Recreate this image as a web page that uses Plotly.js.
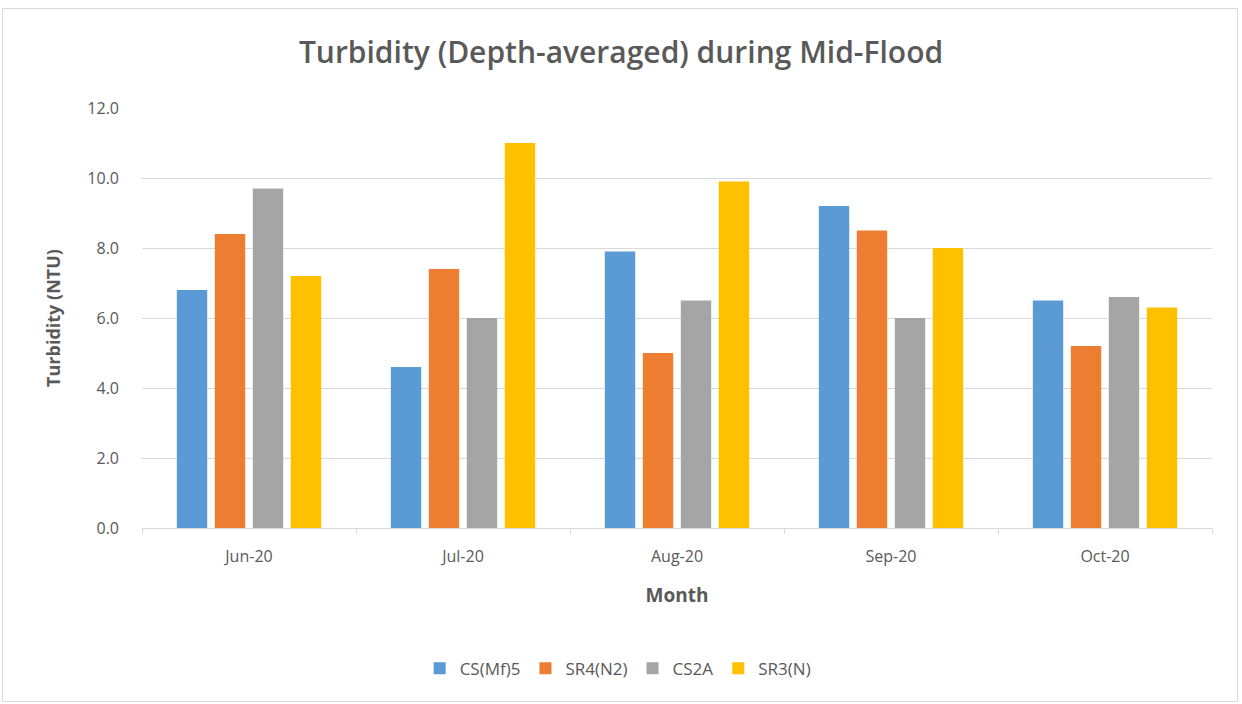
<!DOCTYPE html>
<html>
<head>
<meta charset="utf-8">
<script src="https://cdn.plot.ly/plotly-3.0.1.min.js"></script>
<style>
  html, body { margin: 0; padding: 0; background: #ffffff; }
  #frame { position: absolute; left: 2px; top: 8px; width: 1236px; height: 694px; border: 1px solid #d9d9d9; box-sizing: border-box; }
  #chart { position: absolute; left: 0; top: 0; width: 1242px; height: 704px; }
</style>
</head>
<body>
<div id="frame"></div>
<div id="chart"></div>
<script>
const months = ["Jun-20", "Jul-20", "Aug-20", "Sep-20", "Oct-20"];
const seriesNames = ["CS(Mf)5", "SR4(N2)", "CS2A", "SR3(N)"];
const csMf5 = [6.8, 4.6, 7.9, 9.2, 6.5];
const sr4N2 = [8.4, 7.4, 5.0, 8.5, 5.2];
const cs2A = [9.7, 6.0, 6.5, 6.0, 6.6];
const sr3N = [7.2, 11.0, 9.9, 8.0, 6.3];
const yTicks = [0, 2, 4, 6, 8, 10, 12];
const yTickText = ["0.0", "2.0", "4.0", "6.0", "8.0", "10.0", "12.0"];

const colors = ["#5b9bd5", "#ed7d31", "#a5a5a5", "#ffc000"];
const values = [csMf5, sr4N2, cs2A, sr3N];
const font = "Open Sans, Noto Sans, sans-serif";

const data = values.map((v, i) => ({
  type: "bar",
  name: seriesNames[i],
  x: months,
  y: v,
  marker: { color: colors[i] },
  hoverinfo: "x+y+name"
}));

const layout = {
  width: 1242,
  height: 704,
  paper_bgcolor: "rgba(0,0,0,0)",
  plot_bgcolor: "rgba(0,0,0,0)",
  margin: { l: 142, r: 30, t: 108, b: 176 },
  title: {
    text: "Turbidity (Depth-averaged) during Mid-Flood",
    font: { family: font, size: 30, color: "#595959", weight: 600 },
    x: 0.5, xanchor: "center",
    y: 0.925, yanchor: "middle"
  },
  barmode: "group",
  bargap: 0.29,
  bargroupgap: 0.2,
  showlegend: true,
  legend: {
    orientation: "h",
    x: 0.445, xanchor: "center",
    y: -0.335, yanchor: "middle",
    font: { family: font, size: 17, color: "#595959" },
    itemwidth: 30,
    traceorder: "normal"
  },
  xaxis: {
    type: "category",
    tickson: "boundaries",
    ticks: "outside",
    ticklen: 5,
    tickcolor: "#d9d9d9",
    showline: true,
    linecolor: "#d9d9d9",
    linewidth: 1,
    showgrid: false,
    ticklabelstandoff: 14,
    tickfont: { family: font, size: 16, color: "#595959" },
    title: { text: "<b>Month</b>", font: { family: font, size: 19, color: "#595959" }, standoff: 22 }
  },
  yaxis: {
    range: [0, 12],
    tickvals: yTicks,
    ticktext: yTickText,
    showgrid: true,
    gridcolor: "#d9d9d9",
    zeroline: false,
    showline: false,
    ticks: "",
    ticklabelstandoff: 22,
    tickfont: { family: font, size: 16, color: "#595959" },
    title: { text: "<b>Turbidity (NTU)</b>", font: { family: font, size: 18, color: "#595959" }, standoff: 22 }
  }
};

Plotly.newPlot("chart", data, layout, { displayModeBar: false, staticPlot: true });
</script>
</body>
</html>
